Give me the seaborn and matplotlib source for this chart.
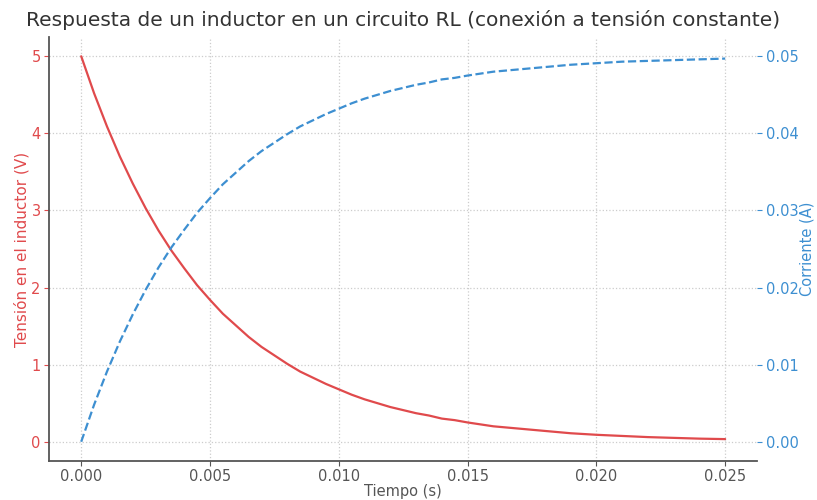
import matplotlib
matplotlib.use("Agg")
import matplotlib.pyplot as plt
import seaborn as sns
import pandas as pd

# Time samples (s)
tiempo = [0.0000, 0.0005, 0.0010, 0.0015, 0.0020, 0.0025, 0.0030, 0.0035, 0.0040, 0.0045,
          0.0050, 0.0055, 0.0060, 0.0065, 0.0070, 0.0075, 0.0080, 0.0085, 0.0090, 0.0095,
          0.0100, 0.0105, 0.0110, 0.0115, 0.0120, 0.0125, 0.0130, 0.0135, 0.0140, 0.0145,
          0.0150, 0.0160, 0.0170, 0.0180, 0.0190, 0.0200, 0.0210, 0.0220, 0.0230, 0.0240,
          0.0250]
# Inductor voltage (V)
tension = [5.00, 4.52, 4.09, 3.70, 3.35, 3.03, 2.74, 2.48, 2.25, 2.03,
           1.84, 1.66, 1.51, 1.36, 1.23, 1.12, 1.01, 0.91, 0.83, 0.75,
           0.68, 0.61, 0.55, 0.50, 0.45, 0.41, 0.37, 0.34, 0.30, 0.28,
           0.25, 0.20, 0.17, 0.14, 0.11, 0.09, 0.075, 0.06, 0.05, 0.04,
           0.034]
# Current (A)
corriente = [0.0000, 0.0048, 0.0091, 0.0130, 0.0165, 0.0197, 0.0226, 0.0252, 0.0275, 0.0297,
             0.0316, 0.0334, 0.0349, 0.0364, 0.0377, 0.0388, 0.0399, 0.0409, 0.0417, 0.0425,
             0.0432, 0.0439, 0.0445, 0.0450, 0.0455, 0.0459, 0.0463, 0.0466, 0.0470, 0.0472,
             0.0475, 0.0480, 0.0483, 0.0486, 0.0489, 0.0491, 0.0493, 0.0494, 0.0495, 0.0496,
             0.0497]
x_ticks = [0.000, 0.005, 0.010, 0.015, 0.020, 0.025]
y1_ticks = [0, 1, 2, 3, 4, 5]
y2_ticks = [0.00, 0.01, 0.02, 0.03, 0.04, 0.05]

df = pd.DataFrame({"t": tiempo, "v": tension, "i": corriente})

sns.set_style("white")
plt.rcParams["font.family"] = ["DejaVu Sans"]

red = "#e04a4c"
blue = "#3d8fd1"
grey = "#555555"

fig = plt.figure(figsize=(8.17, 5.0), dpi=100)
ax1 = fig.add_axes([0.060, 0.078, 0.867, 0.848])
ax2 = ax1.twinx()

sns.lineplot(data=df, x="t", y="v", ax=ax1, color=red, linewidth=1.6)
sns.lineplot(data=df, x="t", y="i", ax=ax2, color=blue, linewidth=1.6, linestyle="--")

ax1.set_xlim(-0.00125, 0.02625)
ax1.set_ylim(-0.25, 5.25)
ax2.set_ylim(-0.0025, 0.0525)
ax1.set_xticks(x_ticks)
ax1.set_xticklabels([f"{v:.3f}" for v in x_ticks])
ax1.set_yticks(y1_ticks)
ax2.set_yticks(y2_ticks)
ax2.set_yticklabels([f"{v:.2f}" for v in y2_ticks])

ax1.grid(True, linestyle=":", color="#cccccc", linewidth=0.9)
ax2.grid(False)

for ax in (ax1, ax2):
    ax.spines["top"].set_visible(False)
    ax.spines["right"].set_visible(False)
ax1.spines["left"].set_color(grey)
ax1.spines["bottom"].set_color(grey)
ax1.spines["left"].set_linewidth(1.3)
ax1.spines["bottom"].set_linewidth(1.3)
ax2.spines["left"].set_visible(False)
ax2.spines["bottom"].set_visible(False)

ax1.tick_params(axis="x", colors=grey, labelsize=10.5, length=3.5, width=0.8, pad=2.5, direction="out", bottom=True)
ax1.tick_params(axis="y", colors=red, labelcolor=red, labelsize=10.5, length=3.5, width=0.8, pad=2.5, left=True)
ax2.tick_params(axis="y", colors=blue, labelcolor=blue, labelsize=10.5, length=3.5, width=0.8, pad=2.5, right=True)

ax1.set_xlabel("Tiempo (s)", color=grey, fontsize=10.5, labelpad=0)
ax1.set_ylabel("Tensión en el inductor (V)", color=red, fontsize=11, labelpad=1)
ax2.set_ylabel("Corriente (A)", color=blue, fontsize=10.5, labelpad=1)
ax1.set_title("Respuesta de un inductor en un circuito RL (conexión a tensión constante)",
              fontsize=14.5, color="#333333", pad=8)

fig.savefig("out.png", dpi=100)
